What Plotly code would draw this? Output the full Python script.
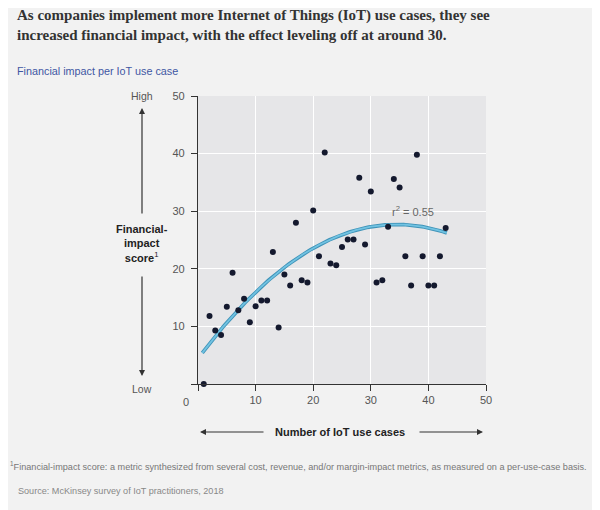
import numpy as np
import plotly.graph_objects as go

# Data
use_cases = [1, 2, 3, 4, 5, 6, 7, 8, 9, 10, 11, 12, 13, 14, 15, 16, 17, 18, 19, 20,
             21, 22, 23, 24, 25, 26, 27, 28, 29, 30, 31, 32, 33, 34, 35, 36, 37, 38,
             39, 40, 41, 42, 43]
impact_score = [0, 11.8, 9.3, 8.5, 13.4, 19.3, 12.8, 14.8, 10.7, 13.5, 14.5, 14.5, 22.9, 9.8,
                19.0, 17.1, 28.0, 18.0, 17.6, 30.1, 22.2, 40.2, 20.9, 20.6, 23.8, 25.1, 25.1,
                35.8, 24.2, 33.4, 17.6, 18.0, 27.3, 35.6, 34.1, 22.2, 17.1, 39.8, 22.2, 17.1,
                17.1, 22.2, 27.1]
# quadratic trend line coefficients (c0 + c1*x + c2*x^2)
trend_coeffs = [4.395, 1.351, -0.01958]
trend_range = [0.75, 43.2]
x_ticks = [0, 10, 20, 30, 40, 50]
y_ticks = [0, 10, 20, 30, 40, 50]

tx = np.linspace(trend_range[0], trend_range[1], 120)
ty = trend_coeffs[0] + trend_coeffs[1] * tx + trend_coeffs[2] * tx ** 2

SANS = "Liberation Sans, Arial, sans-serif"
SERIF = "Liberation Serif, DejaVu Serif, serif"

fig = go.Figure()
fig.add_trace(go.Scatter(x=tx, y=ty, mode="lines",
                         line=dict(color="#3f93b8", width=3.6), hoverinfo="skip",
                         cliponaxis=False))
fig.add_trace(go.Scatter(x=tx, y=ty, mode="lines",
                         line=dict(color="#72c3e2", width=1.8), hoverinfo="skip",
                         cliponaxis=False))
fig.add_trace(go.Scatter(x=use_cases, y=impact_score, mode="markers",
                         marker=dict(color="#14192e", size=6), cliponaxis=False))

# page-pixel to paper helpers (plot area spans 198..486 horizontally, 96..384 vertically)
def px(x):
    return (x - 198) / 288.0

def py(y):
    return (384 - y) / 288.0

ann = []
ann.append(dict(x=px(15), y=py(5), xref="paper", yref="paper", xanchor="left", yanchor="top",
                align="left", showarrow=False,
                text="<b>As companies implement more Internet of Things (IoT) use cases, they see<br>increased financial impact, with the effect leveling off at around 30.</b>",
                font=dict(family=SERIF, size=15, color="#333333")))
ann.append(dict(x=px(15), y=py(71), xref="paper", yref="paper", xanchor="left", yanchor="middle",
                showarrow=False, text="Financial impact per IoT use case",
                font=dict(family=SANS, size=10.8, color="#3f57a3")))
ann.append(dict(x=px(142), y=py(96), xref="paper", yref="paper", xanchor="center", yanchor="middle",
                showarrow=False, text="High", font=dict(family=SANS, size=10.5, color="#555555")))
ann.append(dict(x=px(142), y=py(389), xref="paper", yref="paper", xanchor="center", yanchor="middle",
                showarrow=False, text="Low", font=dict(family=SANS, size=10.5, color="#555555")))
ann.append(dict(x=px(142), y=py(108), xref="paper", yref="paper", ax=0, ay=107, axref="pixel", ayref="pixel",
                showarrow=True, arrowhead=2, arrowsize=1, arrowwidth=1.2, arrowcolor="#333333", text=""))
ann.append(dict(x=px(142), y=py(376), xref="paper", yref="paper", ax=0, ay=-101, axref="pixel", ayref="pixel",
                showarrow=True, arrowhead=2, arrowsize=1, arrowwidth=1.2, arrowcolor="#333333", text=""))
ann.append(dict(x=px(142), y=py(243), xref="paper", yref="paper", xanchor="center", yanchor="middle",
                showarrow=False, align="center",
                text="<b>Financial-<br>impact<br>score</b><sup>1</sup>",
                font=dict(family=SANS, size=11, color="#222222")))
ann.append(dict(x=px(340), y=py(432), xref="paper", yref="paper", xanchor="center", yanchor="middle",
                showarrow=False, text="<b>Number of IoT use cases</b>",
                font=dict(family=SANS, size=11, color="#222222")))
ann.append(dict(x=px(200), y=py(432), xref="paper", yref="paper", ax=65, ay=0, axref="pixel", ayref="pixel",
                showarrow=True, arrowhead=2, arrowsize=1, arrowwidth=1.2, arrowcolor="#333333", text=""))
ann.append(dict(x=px(483), y=py(432), xref="paper", yref="paper", ax=-65, ay=0, axref="pixel", ayref="pixel",
                showarrow=True, arrowhead=2, arrowsize=1, arrowwidth=1.2, arrowcolor="#333333", text=""))
ann.append(dict(x=px(186), y=py(402), xref="paper", yref="paper", xanchor="center", yanchor="middle",
                showarrow=False, text="0", font=dict(family=SANS, size=11, color="#555555")))
ann.append(dict(x=px(413), y=py(211), xref="paper", yref="paper", xanchor="center", yanchor="middle",
                showarrow=False, text="r<sup>2</sup> = 0.55", font=dict(family=SANS, size=11, color="#666666")))
ann.append(dict(x=px(8), y=py(466), xref="paper", yref="paper", xanchor="left", yanchor="middle",
                showarrow=False,
                text="<sup>1</sup>Financial-impact score: a metric synthesized from several cost, revenue, and/or margin-impact metrics, as measured on a per-use-case basis.",
                font=dict(family=SANS, size=9.15, color="#777777")))
ann.append(dict(x=px(16), y=py(491), xref="paper", yref="paper", xanchor="left", yanchor="middle",
                showarrow=False, text="Source: McKinsey survey of IoT practitioners, 2018",
                font=dict(family=SANS, size=9.1, color="#888888")))

fig.update_layout(
    width=592, height=502,
    margin=dict(l=190, r=114, t=88, b=126),
    paper_bgcolor="#f2f2f2", plot_bgcolor="#e6e6e8",
    showlegend=False,
    annotations=ann,
    xaxis=dict(range=[0, 50], tickvals=x_ticks, ticktext=["" if v == 0 else str(v) for v in x_ticks],
               showgrid=True, gridcolor="#ffffff", gridwidth=1, zeroline=False,
               showline=True, linecolor="#333333", linewidth=1.2,
               ticks="outside", ticklen=6, tickcolor="#333333", tickwidth=1.2,
               tickfont=dict(family=SANS, size=11, color="#555555")),
    yaxis=dict(range=[0, 50], tickvals=y_ticks, ticktext=["" if v == 0 else str(v) for v in y_ticks],
               showgrid=True, gridcolor="#ffffff", gridwidth=1, zeroline=False,
               showline=True, linecolor="#333333", linewidth=1.2,
               ticks="outside", ticklen=6, tickcolor="#333333", tickwidth=1.2,
               ticklabelstandoff=4,
               tickfont=dict(family=SANS, size=11, color="#555555")),
)

fig.write_html("out.html")
